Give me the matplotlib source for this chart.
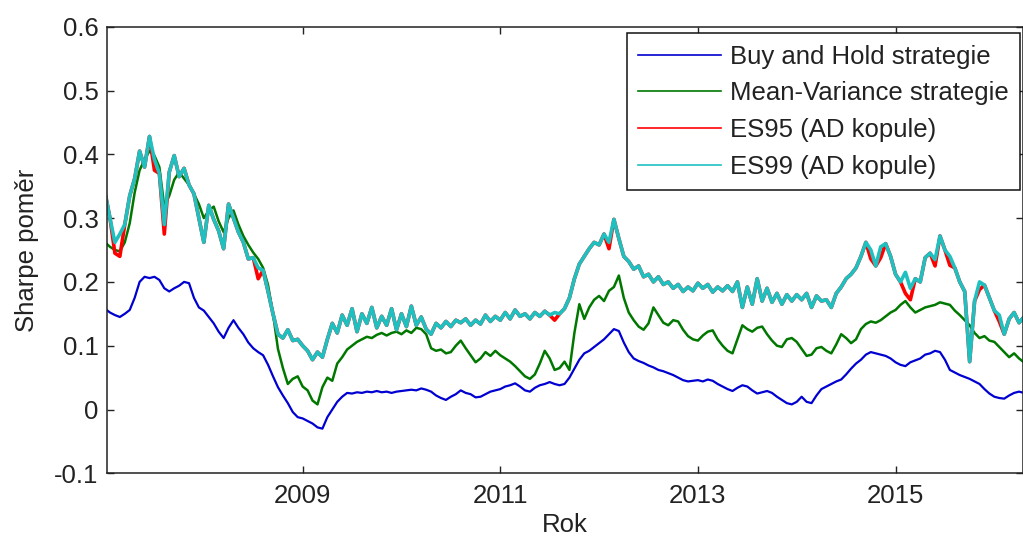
import numpy as np
import matplotlib
matplotlib.use("Agg")
import matplotlib.pyplot as plt
from matplotlib.ticker import FuncFormatter

plt.rcParams["font.family"] = ["Liberation Sans", "DejaVu Sans"]
plt.rcParams["axes.unicode_minus"] = False

# Time span of the rolling Sharpe ratio series (years)
start_year, end_year = 2007.0, 2016.3

buy_hold = [
    0.158, 0.152, 0.148, 0.145, 0.150, 0.156, 0.175, 0.200, 0.208, 0.206,
    0.208, 0.203, 0.190, 0.185, 0.190, 0.194, 0.200, 0.198, 0.175, 0.160,
    0.155, 0.145, 0.135, 0.122, 0.112, 0.128, 0.140, 0.128, 0.118, 0.105,
    0.096, 0.090, 0.085, 0.070, 0.052, 0.035, 0.022, 0.010, -0.004, -0.012,
    -0.014, -0.018, -0.022, -0.028, -0.030, -0.012, 0.000, 0.012, 0.020, 0.026,
    0.025, 0.027, 0.026, 0.028, 0.027, 0.029, 0.027, 0.028, 0.026, 0.028,
    0.029, 0.030, 0.031, 0.030, 0.033, 0.031, 0.028, 0.022, 0.018, 0.015,
    0.020, 0.024, 0.030, 0.026, 0.024, 0.019, 0.020, 0.024, 0.028, 0.030,
    0.032, 0.036, 0.038, 0.041, 0.036, 0.030, 0.028, 0.034, 0.038, 0.040,
    0.043, 0.040, 0.038, 0.040, 0.050, 0.064, 0.078, 0.088, 0.092, 0.098,
    0.104, 0.110, 0.118, 0.126, 0.123, 0.105, 0.090, 0.080, 0.076, 0.073,
    0.069, 0.066, 0.062, 0.060, 0.057, 0.054, 0.050, 0.046, 0.044, 0.045,
    0.046, 0.044, 0.047, 0.045, 0.040, 0.036, 0.032, 0.029, 0.034, 0.038,
    0.036, 0.030, 0.025, 0.027, 0.029, 0.026, 0.020, 0.015, 0.010, 0.008,
    0.012, 0.020, 0.012, 0.010, 0.022, 0.032, 0.036, 0.040, 0.044, 0.047,
    0.055, 0.064, 0.072, 0.078, 0.086, 0.090, 0.088, 0.086, 0.084, 0.080,
    0.074, 0.070, 0.068, 0.074, 0.077, 0.080, 0.086, 0.088, 0.092, 0.090,
    0.078, 0.062, 0.058, 0.054, 0.051, 0.048, 0.044, 0.040, 0.032, 0.025,
    0.020, 0.018, 0.017, 0.022, 0.026, 0.028, 0.026,
]

mean_variance = [
    0.262, 0.255, 0.250, 0.248, 0.262, 0.292, 0.340, 0.375, 0.392, 0.405,
    0.398, 0.380, 0.318, 0.335, 0.360, 0.372, 0.362, 0.352, 0.338, 0.322,
    0.300, 0.312, 0.318, 0.295, 0.278, 0.300, 0.312, 0.290, 0.272, 0.258,
    0.246, 0.236, 0.222, 0.195, 0.150, 0.095, 0.065, 0.040, 0.048, 0.052,
    0.036, 0.030, 0.014, 0.008, 0.035, 0.050, 0.045, 0.072, 0.082, 0.094,
    0.100, 0.106, 0.110, 0.114, 0.112, 0.117, 0.120, 0.116, 0.120, 0.122,
    0.118, 0.124, 0.120, 0.128, 0.126, 0.118, 0.096, 0.092, 0.094, 0.088,
    0.090, 0.100, 0.108, 0.096, 0.085, 0.074, 0.080, 0.090, 0.084, 0.092,
    0.085, 0.080, 0.075, 0.068, 0.060, 0.052, 0.048, 0.055, 0.072, 0.092,
    0.080, 0.062, 0.065, 0.075, 0.062, 0.120, 0.165, 0.142, 0.160, 0.172,
    0.178, 0.170, 0.186, 0.192, 0.210, 0.175, 0.152, 0.140, 0.130, 0.125,
    0.135, 0.160, 0.148, 0.136, 0.132, 0.140, 0.138, 0.125, 0.115, 0.110,
    0.108, 0.116, 0.122, 0.124, 0.110, 0.100, 0.092, 0.088, 0.110, 0.132,
    0.126, 0.122, 0.128, 0.130, 0.118, 0.108, 0.100, 0.098, 0.110, 0.112,
    0.106, 0.095, 0.084, 0.086, 0.096, 0.098, 0.092, 0.088, 0.102, 0.118,
    0.112, 0.104, 0.110, 0.126, 0.134, 0.138, 0.136, 0.140, 0.146, 0.152,
    0.156, 0.164, 0.170, 0.160, 0.152, 0.156, 0.160, 0.162, 0.164, 0.168,
    0.166, 0.164, 0.155, 0.148, 0.140, 0.132, 0.120, 0.112, 0.115, 0.108,
    0.106, 0.098, 0.090, 0.082, 0.088, 0.080, 0.074,
]

es95 = [
    0.340, 0.300, 0.245, 0.240, 0.290, 0.335, 0.362, 0.405, 0.380, 0.428,
    0.375, 0.370, 0.275, 0.372, 0.398, 0.365, 0.378, 0.352, 0.338, 0.300,
    0.262, 0.320, 0.298, 0.280, 0.252, 0.322, 0.300, 0.278, 0.262, 0.236,
    0.238, 0.205, 0.218, 0.185, 0.150, 0.118, 0.112, 0.125, 0.108, 0.110,
    0.100, 0.092, 0.078, 0.090, 0.082, 0.110, 0.135, 0.120, 0.148, 0.132,
    0.158, 0.122, 0.150, 0.135, 0.160, 0.128, 0.146, 0.132, 0.158, 0.125,
    0.150, 0.130, 0.162, 0.132, 0.145, 0.126, 0.118, 0.135, 0.128, 0.138,
    0.130, 0.140, 0.136, 0.142, 0.132, 0.140, 0.134, 0.148, 0.138, 0.146,
    0.140, 0.152, 0.142, 0.156, 0.146, 0.150, 0.142, 0.152, 0.146, 0.154,
    0.148, 0.140, 0.150, 0.158, 0.175, 0.205, 0.228, 0.240, 0.252, 0.262,
    0.258, 0.275, 0.252, 0.298, 0.268, 0.240, 0.232, 0.220, 0.225, 0.208,
    0.212, 0.200, 0.208, 0.196, 0.200, 0.190, 0.196, 0.185, 0.192, 0.186,
    0.198, 0.190, 0.196, 0.184, 0.192, 0.186, 0.194, 0.185, 0.200, 0.160,
    0.192, 0.165, 0.205, 0.170, 0.190, 0.168, 0.182, 0.165, 0.180, 0.170,
    0.180, 0.172, 0.182, 0.160, 0.178, 0.170, 0.172, 0.160, 0.182, 0.192,
    0.205, 0.212, 0.222, 0.240, 0.262, 0.236, 0.225, 0.238, 0.260, 0.240,
    0.212, 0.200, 0.182, 0.172, 0.205, 0.200, 0.238, 0.245, 0.225, 0.272,
    0.250, 0.226, 0.222, 0.200, 0.185, 0.075, 0.170, 0.188, 0.195, 0.175,
    0.155, 0.138, 0.118, 0.142, 0.152, 0.136, 0.145,
]

es99 = [
    0.340, 0.300, 0.262, 0.275, 0.290, 0.335, 0.362, 0.405, 0.380, 0.428,
    0.392, 0.370, 0.290, 0.372, 0.398, 0.365, 0.378, 0.352, 0.338, 0.300,
    0.262, 0.320, 0.298, 0.280, 0.252, 0.322, 0.300, 0.278, 0.262, 0.236,
    0.238, 0.222, 0.218, 0.185, 0.150, 0.118, 0.112, 0.125, 0.108, 0.110,
    0.100, 0.092, 0.078, 0.090, 0.082, 0.110, 0.135, 0.120, 0.148, 0.132,
    0.158, 0.122, 0.150, 0.135, 0.160, 0.128, 0.146, 0.132, 0.158, 0.125,
    0.150, 0.130, 0.162, 0.132, 0.145, 0.126, 0.118, 0.135, 0.128, 0.138,
    0.130, 0.140, 0.136, 0.142, 0.132, 0.140, 0.134, 0.148, 0.138, 0.146,
    0.140, 0.152, 0.142, 0.156, 0.146, 0.150, 0.142, 0.152, 0.146, 0.154,
    0.148, 0.152, 0.150, 0.158, 0.175, 0.205, 0.228, 0.240, 0.252, 0.262,
    0.258, 0.275, 0.262, 0.298, 0.268, 0.240, 0.232, 0.220, 0.225, 0.208,
    0.212, 0.200, 0.208, 0.196, 0.200, 0.190, 0.196, 0.185, 0.192, 0.186,
    0.198, 0.190, 0.196, 0.184, 0.192, 0.186, 0.194, 0.185, 0.200, 0.160,
    0.192, 0.165, 0.205, 0.170, 0.190, 0.168, 0.182, 0.165, 0.180, 0.170,
    0.180, 0.172, 0.182, 0.160, 0.178, 0.170, 0.172, 0.160, 0.182, 0.192,
    0.205, 0.212, 0.222, 0.240, 0.262, 0.250, 0.225, 0.255, 0.260, 0.240,
    0.212, 0.200, 0.215, 0.190, 0.205, 0.200, 0.238, 0.245, 0.235, 0.272,
    0.250, 0.240, 0.222, 0.200, 0.185, 0.075, 0.170, 0.200, 0.195, 0.175,
    0.155, 0.148, 0.118, 0.142, 0.152, 0.136, 0.145,
]

series_labels = [
    "Buy and Hold strategie",
    "Mean-Variance strategie",
    "ES95 (AD kopule)",
    "ES99 (AD kopule)",
]
series_colors = ["#0000d0", "#007800", "#ff0000", "#1fc0c0"]
series_widths = [1.6, 1.8, 2.6, 2.6]
x_ticks = [2009, 2011, 2013, 2015]
y_ticks = [-0.1, 0.0, 0.1, 0.2, 0.3, 0.4, 0.5, 0.6]

FS = 18.5
TXT = "#222222"

W, H = 1023, 539
fig = plt.figure(figsize=(W / 100, H / 100), dpi=100)
ax = fig.add_axes([107 / W, 1 - 473.3 / H, (W - 107) / W, (473.3 - 26.7) / H])

for values, label, color, lw in zip([buy_hold, mean_variance, es95, es99],
                                    series_labels, series_colors, series_widths):
    t = np.linspace(start_year, end_year, len(values))
    ax.plot(t, values, color=color, lw=lw, label=label)

ax.set_xlim(2007.02, 2016.29)
ax.set_ylim(-0.1, 0.6)
ax.set_xticks(x_ticks)
ax.set_xticklabels([str(v) for v in x_ticks])
ax.set_yticks(y_ticks)
ax.yaxis.set_major_formatter(FuncFormatter(lambda v, p: f"{v:g}"))

ax.tick_params(direction="in", length=5, width=1.0, top=True, right=True,
               labelsize=FS, colors=TXT)
ax.tick_params(axis="x", pad=8)
ax.tick_params(axis="y", pad=6)
for s in ax.spines.values():
    s.set_linewidth(1.1)
    s.set_color(TXT)

ax.set_xlabel("Rok", fontsize=FS, color=TXT)
ax.xaxis.set_label_coords(0.5, -0.088)
ax.set_ylabel("Sharpe poměr", fontsize=FS, color=TXT)
ax.yaxis.set_label_coords(-0.074, 0.5)

leg = ax.legend(loc="upper right", bbox_to_anchor=(1020 / W, 1 - 33.3 / H),
                bbox_transform=fig.transFigure, borderaxespad=0,
                fontsize=FS, handlelength=3.2, handletextpad=0.35,
                labelspacing=0.49, borderpad=0.45, fancybox=False,
                framealpha=1, edgecolor="#111111")
leg.get_frame().set_linewidth(1.1)
for line in leg.get_lines():
    line.set_linewidth(1.2)
for txt in leg.get_texts():
    txt.set_color(TXT)

fig.savefig("out.png", dpi=100)
